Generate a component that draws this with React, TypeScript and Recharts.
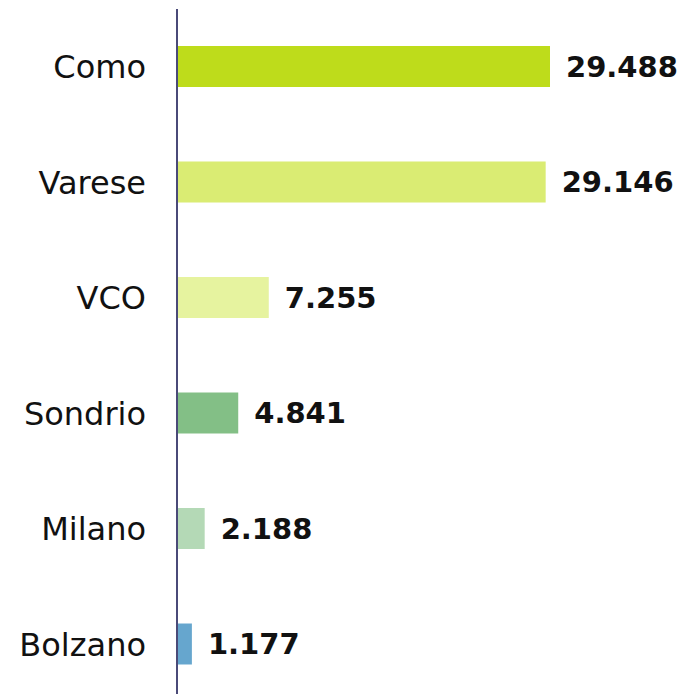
import { BarChart, Bar, XAxis, YAxis, Cell, LabelList } from 'recharts';

const provinces = ['Como', 'Varese', 'VCO', 'Sondrio', 'Milano', 'Bolzano'];
const counts = [29488, 29146, 7255, 4841, 2188, 1177];
const barColors = ['#BEDC1B', '#DAEC73', '#E6F39F', '#83BF86', '#B4D9B6', '#66A6CE'];

const data = provinces.map((name, i) => ({ name, value: counts[i] }));

// Italian thousands separator: 29488 -> 29.488
const fmt = (v: any) => String(v).replace(/\B(?=(\d{3})+(?!\d))/g, '.');

export default function App() {
  return (
    <div style={{ width: 679, height: 694 }}>
      <BarChart
        width={679}
        height={694}
        data={data}
        layout="vertical"
        margin={{ top: 1, right: 137, bottom: 0, left: 0 }}
      >
        <XAxis type="number" hide domain={[0, 'dataMax']} />
        <YAxis
          type="category"
          dataKey="name"
          width={169}
          tickSize={0}
          tickMargin={31}
          axisLine={{ stroke: '#4A4A78', strokeWidth: 2 }}
          tick={{ fill: '#111', fontSize: 32, fontFamily: 'DejaVu Sans' }}
        />
        <Bar dataKey="value" barSize={41} isAnimationActive={false}>
          {data.map((d, i) => (
            <Cell key={d.name} fill={barColors[i]} />
          ))}
          <LabelList
            dataKey="value"
            position="right"
            offset={16}
            formatter={fmt}
            style={{ fill: '#111', fontSize: 29, fontWeight: 700, fontFamily: 'DejaVu Sans' }}
          />
        </Bar>
      </BarChart>
    </div>
  );
}
